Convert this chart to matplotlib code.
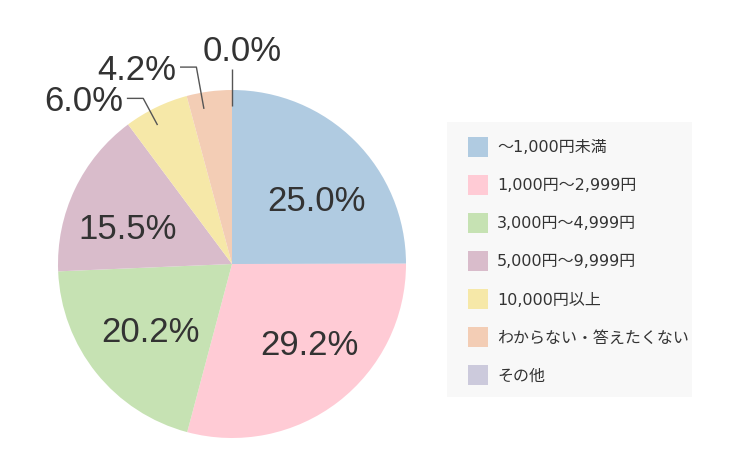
import numpy as np
import matplotlib
matplotlib.use("Agg")
import matplotlib.pyplot as plt
from matplotlib.patches import Rectangle

plt.rcParams['font.family'] = ['Liberation Sans', 'Noto Sans CJK JP', 'DejaVu Sans']

# data
categories = ["〜1,000円未満", "1,000円〜2,999円", "3,000円〜4,999円",
              "5,000円〜9,999円", "10,000円以上", "わからない・答えたくない", "その他"]
values = [25.0, 29.2, 20.2, 15.5, 6.0, 4.2, 0.0]
colors = ["#b0cbe1", "#ffcbd5", "#c6e2b3", "#d9bccb", "#f6e8a8", "#f3cdb5", "#cccadc"]

# label layout: angle nudge and radius for inside labels,
# angle nudge and elbow radius for the outside ones
inside_nudge = [-7, 7, 0, 5.5]
inside_r = [0.62, 0.63, 0.60, 0.64]
outside_nudge = {4: 2.3, 5: 2.7, 6: 0}
elbow_r = {4: 1.08, 5: 1.15, 6: 1.12}

W, H = 750, 464
fig = plt.figure(figsize=(W / 100, H / 100), dpi=100)

# pie axes: centre (232, 265) px, radius 174 px
cx, cy, r = 232, 265, 174
ax = fig.add_axes([(cx - r) / W, (H - cy - r) / H, 2 * r / W, 2 * r / H])
ax.pie(values, colors=colors, startangle=90, counterclock=False,
       radius=1, wedgeprops=dict(linewidth=0))
ax.set_xlim(-1, 1)
ax.set_ylim(-1, 1)
ax.set_aspect('equal')
ax.axis('off')

total = sum(values)
cum = 0.0
txt = "#333333"
lab_fs = 25
half_cap = 12 / r  # half the cap height in axis units, to put baselines right
for i, v in enumerate(values):
    mid = 90 - 360 * (cum + v / 2) / total
    cum += v
    label = f"{v:.1f}%"
    if i not in elbow_r:
        a = np.deg2rad(mid + inside_nudge[i])
        ax.text(inside_r[i] * np.cos(a), inside_r[i] * np.sin(a) - half_cap, label,
                ha='center', va='baseline', fontsize=lab_fs, color=txt)
        continue
    a = np.deg2rad(mid + outside_nudge[i])
    x0, y0 = 0.91 * np.cos(a), 0.91 * np.sin(a)
    rr = elbow_r[i]
    if v == 0:
        # zero-width slice at the top: straight line up
        x1, y1 = x0, rr
        ax.plot([x0, x1], [y0, y1], color="#555555", lw=1, clip_on=False,
                solid_capstyle='butt')
        ax.text(x1 + 0.057, y1 + 0.05, label, ha='center', va='baseline',
                fontsize=lab_fs, color=txt)
    else:
        x1, y1 = rr * np.cos(a), rr * np.sin(a)
        x2 = x1 - 0.09
        ax.plot([x0, x1, x2], [y0, y1, y1], color="#555555", lw=1, clip_on=False)
        ax.text(x2 - 0.025, y1 - half_cap, label, ha='right', va='baseline',
                fontsize=lab_fs, color=txt)

# legend box
lx, ly, lw_, lh = 447, 123, 245, 275
lax = fig.add_axes([lx / W, (H - ly - lh) / H, lw_ / W, lh / H])
lax.set_facecolor("#f8f8f8")
lax.set_xlim(0, lw_)
lax.set_ylim(lh, 0)
lax.set_xticks([])
lax.set_yticks([])
for s in lax.spines.values():
    s.set_visible(False)
for i, (name, c) in enumerate(zip(categories, colors)):
    yc = 25 + i * 38
    lax.add_patch(Rectangle((21, yc - 10), 20, 20, facecolor=c, edgecolor='none'))
    lax.text(50, yc, name, ha='left', va='center', fontsize=11.5, color=txt,
             family=['DejaVu Sans', 'Noto Sans CJK JP'])

fig.savefig("out.png", dpi=100)
